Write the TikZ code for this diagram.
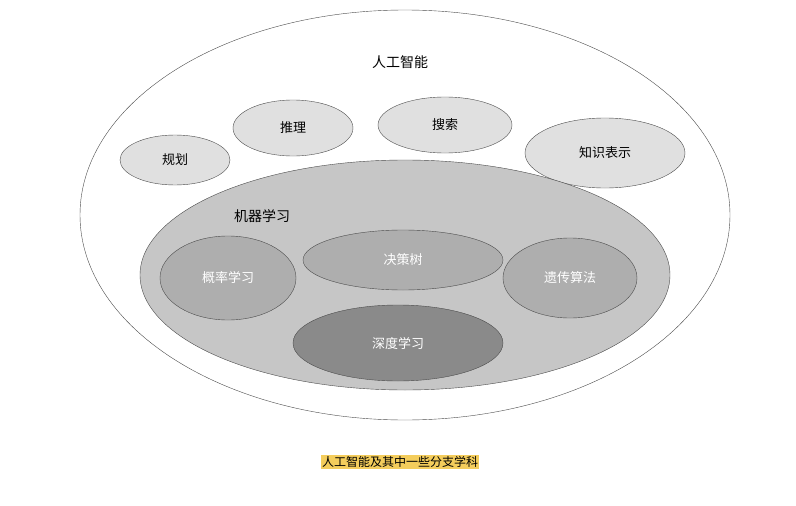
\documentclass[tikz,border=0pt]{standalone}
\usepackage{fontspec}
\setmainfont{Noto Sans CJK SC}
\usetikzlibrary{shapes.geometric}
\definecolor{topic}{HTML}{E0E0E0}
\definecolor{mlfill}{HTML}{C6C6C6}
\definecolor{subml}{HTML}{AEAEAE}
\definecolor{deepfill}{HTML}{8A8A8A}
\definecolor{capfill}{HTML}{F4CD5C}
\tikzset{
    area/.style = {
        draw=black!70,
        ellipse,
        font=\fontsize{13pt}{15pt}\selectfont,
        },
    topic/.style = {
        area,
        fill = topic,
        },
    sub/.style = {
        area,
        fill = subml,
        text = white,
        },
}
\begin{document}
\begin{tikzpicture}[x=1pt,y=-1pt]
    \useasboundingbox (0,0) rectangle (796,506);
    % outer field
    \node[area, fill=white, minimum width=650, minimum height=410] (ai) at (405,215) {};
    \node[font=\fontsize{14pt}{16pt}\selectfont] (aitext) at (400,62) {人工智能};
    \node[topic, minimum width=110, minimum height=50] (plan) at (175,160) {规划};
    \node[topic, minimum width=120, minimum height=56] (reason) at (293,128) {推理};
    \node[topic, minimum width=134, minimum height=56] (search) at (445,125) {搜索};
    \node[topic, minimum width=160, minimum height=70] (know) at (605,153) {知识表示};
    % machine learning
    \node[area, fill=mlfill, minimum width=530, minimum height=230] (ml) at (405,275) {};
    \node[font=\fontsize{14pt}{16pt}\selectfont] (mltext) at (262,216) {机器学习};
    \node[sub, minimum width=136, minimum height=84] (prob) at (228,278) {概率学习};
    \node[sub, minimum width=200, minimum height=60] (tree) at (403,260) {决策树};
    \node[sub, minimum width=134, minimum height=80] (gen) at (570,278) {遗传算法};
    \node[sub, fill=deepfill, minimum width=210, minimum height=76] (deep) at (398,343) {深度学习};
    % caption
    \node[fill=capfill, inner sep=1pt, font=\fontsize{12pt}{14pt}\selectfont] (cap) at (400,462) {人工智能及其中一些分支学科};
\end{tikzpicture}
\end{document}
